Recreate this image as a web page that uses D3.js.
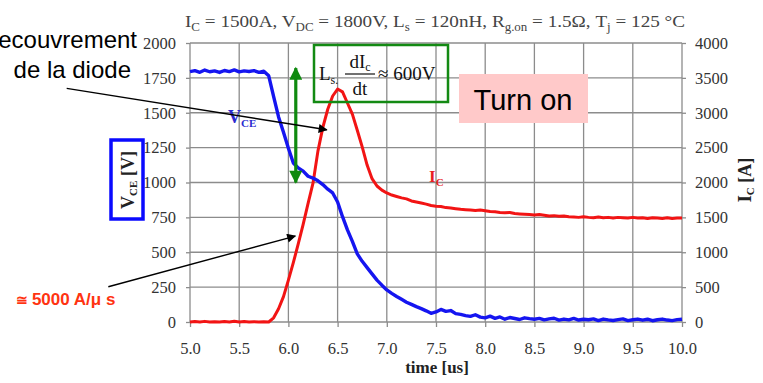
<!DOCTYPE html>
<html><head><meta charset="utf-8">
<script src="https://cdn.jsdelivr.net/npm/d3@7"></script>
<style>html,body{margin:0;padding:0;background:#fff;overflow:hidden}</style>
</head><body>
<svg id="c" width="763" height="383"></svg>
<script>
// ---- data ----
const time = [5.00,5.05,5.10,5.15,5.20,5.25,5.30,5.35,5.40,5.45,5.50,5.55,5.60,5.65,5.70,5.75,5.80,5.85,5.90,5.95,
6.00,6.05,6.10,6.15,6.20,6.25,6.30,6.35,6.40,6.45,6.50,6.55,6.60,6.65,6.70,6.75,6.80,6.85,6.90,6.95,
7.00,7.05,7.10,7.15,7.20,7.25,7.30,7.35,7.40,7.45,7.50,7.55,7.60,7.65,7.70,7.75,7.80,7.85,7.90,7.95,
8.00,8.05,8.10,8.15,8.20,8.25,8.30,8.35,8.40,8.45,8.50,8.55,8.60,8.65,8.70,8.75,8.80,8.85,8.90,8.95,
9.00,9.05,9.10,9.15,9.20,9.25,9.30,9.35,9.40,9.45,9.50,9.55,9.60,9.65,9.70,9.75,9.80,9.85,9.90,9.95,10.00];
const vce = [1795,1802,1790,1806,1794,1800,1789,1803,1795,1807,1793,1800,1796,1802,1790,1798,1765,1615,1470,1360,
1245,1140,1105,1082,1045,1032,1012,985,952,925,860,755,660,578,488,435,390,345,300,264,
230,205,183,163,142,126,110,96,80,62,72,90,76,82,60,55,46,40,52,35,
30,42,26,36,20,32,25,18,30,24,20,26,15,22,27,14,21,15,26,14,
20,16,22,10,21,15,11,17,22,10,16,21,13,20,9,16,21,14,10,17,20];
const ic = [0,6,0,9,0,5,0,7,0,10,0,6,0,5,0,4,0,60,190,363,
600,850,1120,1400,1700,1990,2450,2790,3050,3240,3340,3300,3140,2980,2750,2510,2250,2055,1950,1890,
1850,1820,1800,1780,1765,1735,1720,1705,1690,1670,1660,1655,1640,1635,1625,1615,1610,1605,1600,1605,
1595,1585,1580,1570,1565,1570,1555,1550,1545,1540,1535,1540,1530,1520,1525,1515,1520,1510,1505,1500,
1510,1500,1495,1505,1495,1500,1490,1500,1495,1490,1500,1490,1495,1485,1495,1490,1485,1495,1485,1490,1490];
const xTicks = [5.0,5.5,6.0,6.5,7.0,7.5,8.0,8.5,9.0,9.5,10.0];
const leftTicks = [0,250,500,750,1000,1250,1500,1750,2000];
const rightTicks = [0,500,1000,1500,2000,2500,3000,3500,4000];

// ---- layout ----
const svg = d3.select("#c");
const L = 190, R = 682, T = 43, B = 322;
const x = d3.scaleLinear().domain([5,10]).range([L,R]);
const yL = d3.scaleLinear().domain([0,2000]).range([B,T]);
const yR = d3.scaleLinear().domain([0,4000]).range([B,T]);
const gridCol = "#8c8c8c";
const serif = "'Liberation Serif','Times New Roman',serif";
const sans = "'Liberation Sans',Arial,sans-serif";

// grid
const g = svg.append("g");
g.selectAll(".vg").data(xTicks).join("line")
  .attr("x1",d=>x(d)).attr("x2",d=>x(d)).attr("y1",T).attr("y2",B)
  .attr("stroke",gridCol).attr("stroke-width",1.3);
g.selectAll(".hg").data(leftTicks).join("line")
  .attr("x1",L).attr("x2",R).attr("y1",d=>yL(d)).attr("y2",d=>yL(d))
  .attr("stroke",gridCol).attr("stroke-width",1.3);

// axes
function styleAxis(sel){
  sel.attr("font-family",null).attr("font-size",null);
  sel.select(".domain").remove();
  sel.selectAll("line").attr("stroke",gridCol).attr("stroke-width",1.3);
  sel.selectAll("text").style("font-family",serif).style("font-size","16.5px").attr("fill","#333");
}
svg.append("g").attr("transform",`translate(0,${B})`)
  .call(d3.axisBottom(x).tickValues(xTicks).tickFormat(d3.format(".1f")).tickSize(5).tickPadding(15))
  .call(styleAxis);
svg.append("g").attr("transform",`translate(${L},0)`)
  .call(d3.axisLeft(yL).tickValues(leftTicks).tickFormat(d3.format("d")).tickSize(4).tickPadding(10))
  .call(styleAxis);
svg.append("g").attr("transform",`translate(${R},0)`)
  .call(d3.axisRight(yR).tickValues(rightTicks).tickFormat(d3.format("d")).tickSize(4).tickPadding(9))
  .call(styleAxis);

// curves
const lineIc = d3.line().x((d,i)=>x(time[i])).y(d=>yR(d));
const lineV = d3.line().x((d,i)=>x(time[i])).y(d=>yL(d));
svg.append("path").datum(ic).attr("d",lineIc).attr("fill","none")
  .attr("stroke","#f21414").attr("stroke-width",3).attr("stroke-linejoin","round");
svg.append("path").datum(vce).attr("d",lineV).attr("fill","none")
  .attr("stroke","#1515f0").attr("stroke-width",3.4).attr("stroke-linejoin","round");

// title
function richText(sel, parts, subSize){
  let prevSub = false;
  parts.forEach(([txt,sub])=>{
    const t = sel.append("tspan").text(txt);
    if(sub && !prevSub){ t.attr("dy",4).attr("font-size",subSize); }
    else if(!sub && prevSub){ t.attr("dy",-4); }
    else if(sub){ t.attr("font-size",subSize); }
    prevSub = sub;
  });
}
const title = svg.append("text").attr("x",435).attr("y",27).attr("text-anchor","middle")
  .attr("font-family",serif).attr("font-size","17px").attr("fill","#444")
  .attr("textLength",500).attr("lengthAdjust","spacingAndGlyphs");
richText(title,[["I",0],["C",1],[" = 1500A, V",0],["DC",1],[" = 1800V, L",0],["s",1],[" = 120nH, R",0],["g.on",1],[" = 1.5Ω, T",0],["j",1],[" = 125 °C",0]],"11.5px");

// x axis title
svg.append("text").attr("x",437).attr("y",373).attr("text-anchor","middle")
  .attr("font-family",serif).attr("font-weight","bold").attr("font-size","17px").attr("fill","#222")
  .text("time [us]");

// left axis title in blue box
svg.append("rect").attr("x",111).attr("y",140).attr("width",32).attr("height",79)
  .attr("fill","none").attr("stroke","#0a0aff").attr("stroke-width",3.5);
const vl = svg.append("text").attr("transform","translate(134,180) rotate(-90)").attr("text-anchor","middle")
  .attr("font-family",serif).attr("font-weight","bold").attr("font-size","18px").attr("fill","#222");
vl.append("tspan").text("V");
vl.append("tspan").text("CE").attr("font-size","11px").attr("dy",3);
vl.append("tspan").text(" [V]").attr("dy",-3);

// right axis title
const il = svg.append("text").attr("transform","translate(751,180) rotate(-90)").attr("text-anchor","middle")
  .attr("font-family",serif).attr("font-weight","bold").attr("font-size","18px").attr("fill","#222");
il.append("tspan").text("I");
il.append("tspan").text("C").attr("font-size","11px").attr("dy",3);
il.append("tspan").text(" [A]").attr("dy",-3);

// curve labels
const vce_l = svg.append("text").attr("x",228).attr("y",123).attr("font-family",serif)
  .attr("font-weight","bold").attr("font-size","18px").attr("fill","#2b2bd0");
vce_l.append("tspan").text("V");
vce_l.append("tspan").text("CE").attr("font-size","11px").attr("dy",4);
const ic_l = svg.append("text").attr("x",429).attr("y",182).attr("font-family",serif)
  .attr("font-weight","bold").attr("font-size","17px").attr("fill","#e82020");
ic_l.append("tspan").text("I");
ic_l.append("tspan").text("C").attr("font-size","11px").attr("dy",4);

// green box
svg.append("rect").attr("x",314).attr("y",45).attr("width",134).attr("height",57)
  .attr("fill","none").attr("stroke","#138a13").attr("stroke-width",2.5);
const gb = svg.append("g").attr("font-family",serif).attr("font-size","19px").attr("fill","#111");
const lt = gb.append("text").attr("x",319).attr("y",80);
lt.append("tspan").text("L");
lt.append("tspan").text("s.").attr("font-size","12px").attr("dy",4);
gb.append("text").attr("x",360).attr("y",68).attr("text-anchor","middle").call(s=>{
  s.append("tspan").text("dI");
  s.append("tspan").text("c").attr("font-size","12px").attr("dy",3);
});
gb.append("line").attr("x1",345).attr("x2",375).attr("y1",74).attr("y2",74).attr("stroke","#111").attr("stroke-width",1.2);
gb.append("text").attr("x",360).attr("y",95).attr("text-anchor","middle").text("dt");
gb.append("text").attr("x",378).attr("y",80).text("≈ 600V");

// markers
const defs = svg.append("defs");
function marker(id,col,w,h){
  defs.append("marker").attr("id",id).attr("viewBox","0 0 10 10").attr("refX",9).attr("refY",5)
    .attr("markerUnits","userSpaceOnUse").attr("markerWidth",w).attr("markerHeight",h).attr("orient","auto-start-reverse")
    .append("path").attr("d","M0,0 L10,5 L0,10 Z").attr("fill",col);
}
marker("ab","#000",13,9);
marker("ag","#0f8a0f",14,13);

// green double arrow
svg.append("line").attr("x1",x(6.075)).attr("x2",x(6.075)).attr("y1",yL(1820)).attr("y2",yL(1000))
  .attr("stroke","#0f8a0f").attr("stroke-width",3.2)
  .attr("marker-start","url(#ag)").attr("marker-end","url(#ag)");

// black arrows
svg.append("line").attr("x1",x(3.747)).attr("y1",yL(1675)).attr("x2",x(6.39)).attr("y2",yL(1378))
  .attr("stroke","#000").attr("stroke-width",1.4).attr("marker-end","url(#ab)");
svg.append("line").attr("x1",x(4.17)).attr("y1",yL(253)).attr("x2",x(6.07)).attr("y2",yL(616))
  .attr("stroke","#000").attr("stroke-width",1.4).attr("marker-end","url(#ab)");

// pink "Turn on"
svg.append("rect").attr("x",459).attr("y",74).attr("width",129).attr("height",49).attr("fill","#ffc9c9");
svg.append("text").attr("x",523).attr("y",110).attr("text-anchor","middle")
  .attr("font-family",sans).attr("font-size","29px").attr("fill","#000").text("Turn on");

// left annotations
svg.append("text").attr("x",137).attr("y",48).attr("text-anchor","end")
  .attr("font-family",sans).attr("font-size","24px").attr("fill","#000").text("Recouvrement");
svg.append("text").attr("x",131).attr("y",78).attr("text-anchor","end")
  .attr("font-family",sans).attr("font-size","24px").attr("fill","#000").text("de la diode");
const sl = svg.append("text").attr("x",16).attr("y",305)
  .attr("font-family",sans).attr("font-weight","bold").attr("font-size","17px").attr("fill","#ff3311");
sl.append("tspan").text("≅ ").attr("font-size","14px");
sl.append("tspan").text("5000 A/μ s");
</script>
</body></html>
